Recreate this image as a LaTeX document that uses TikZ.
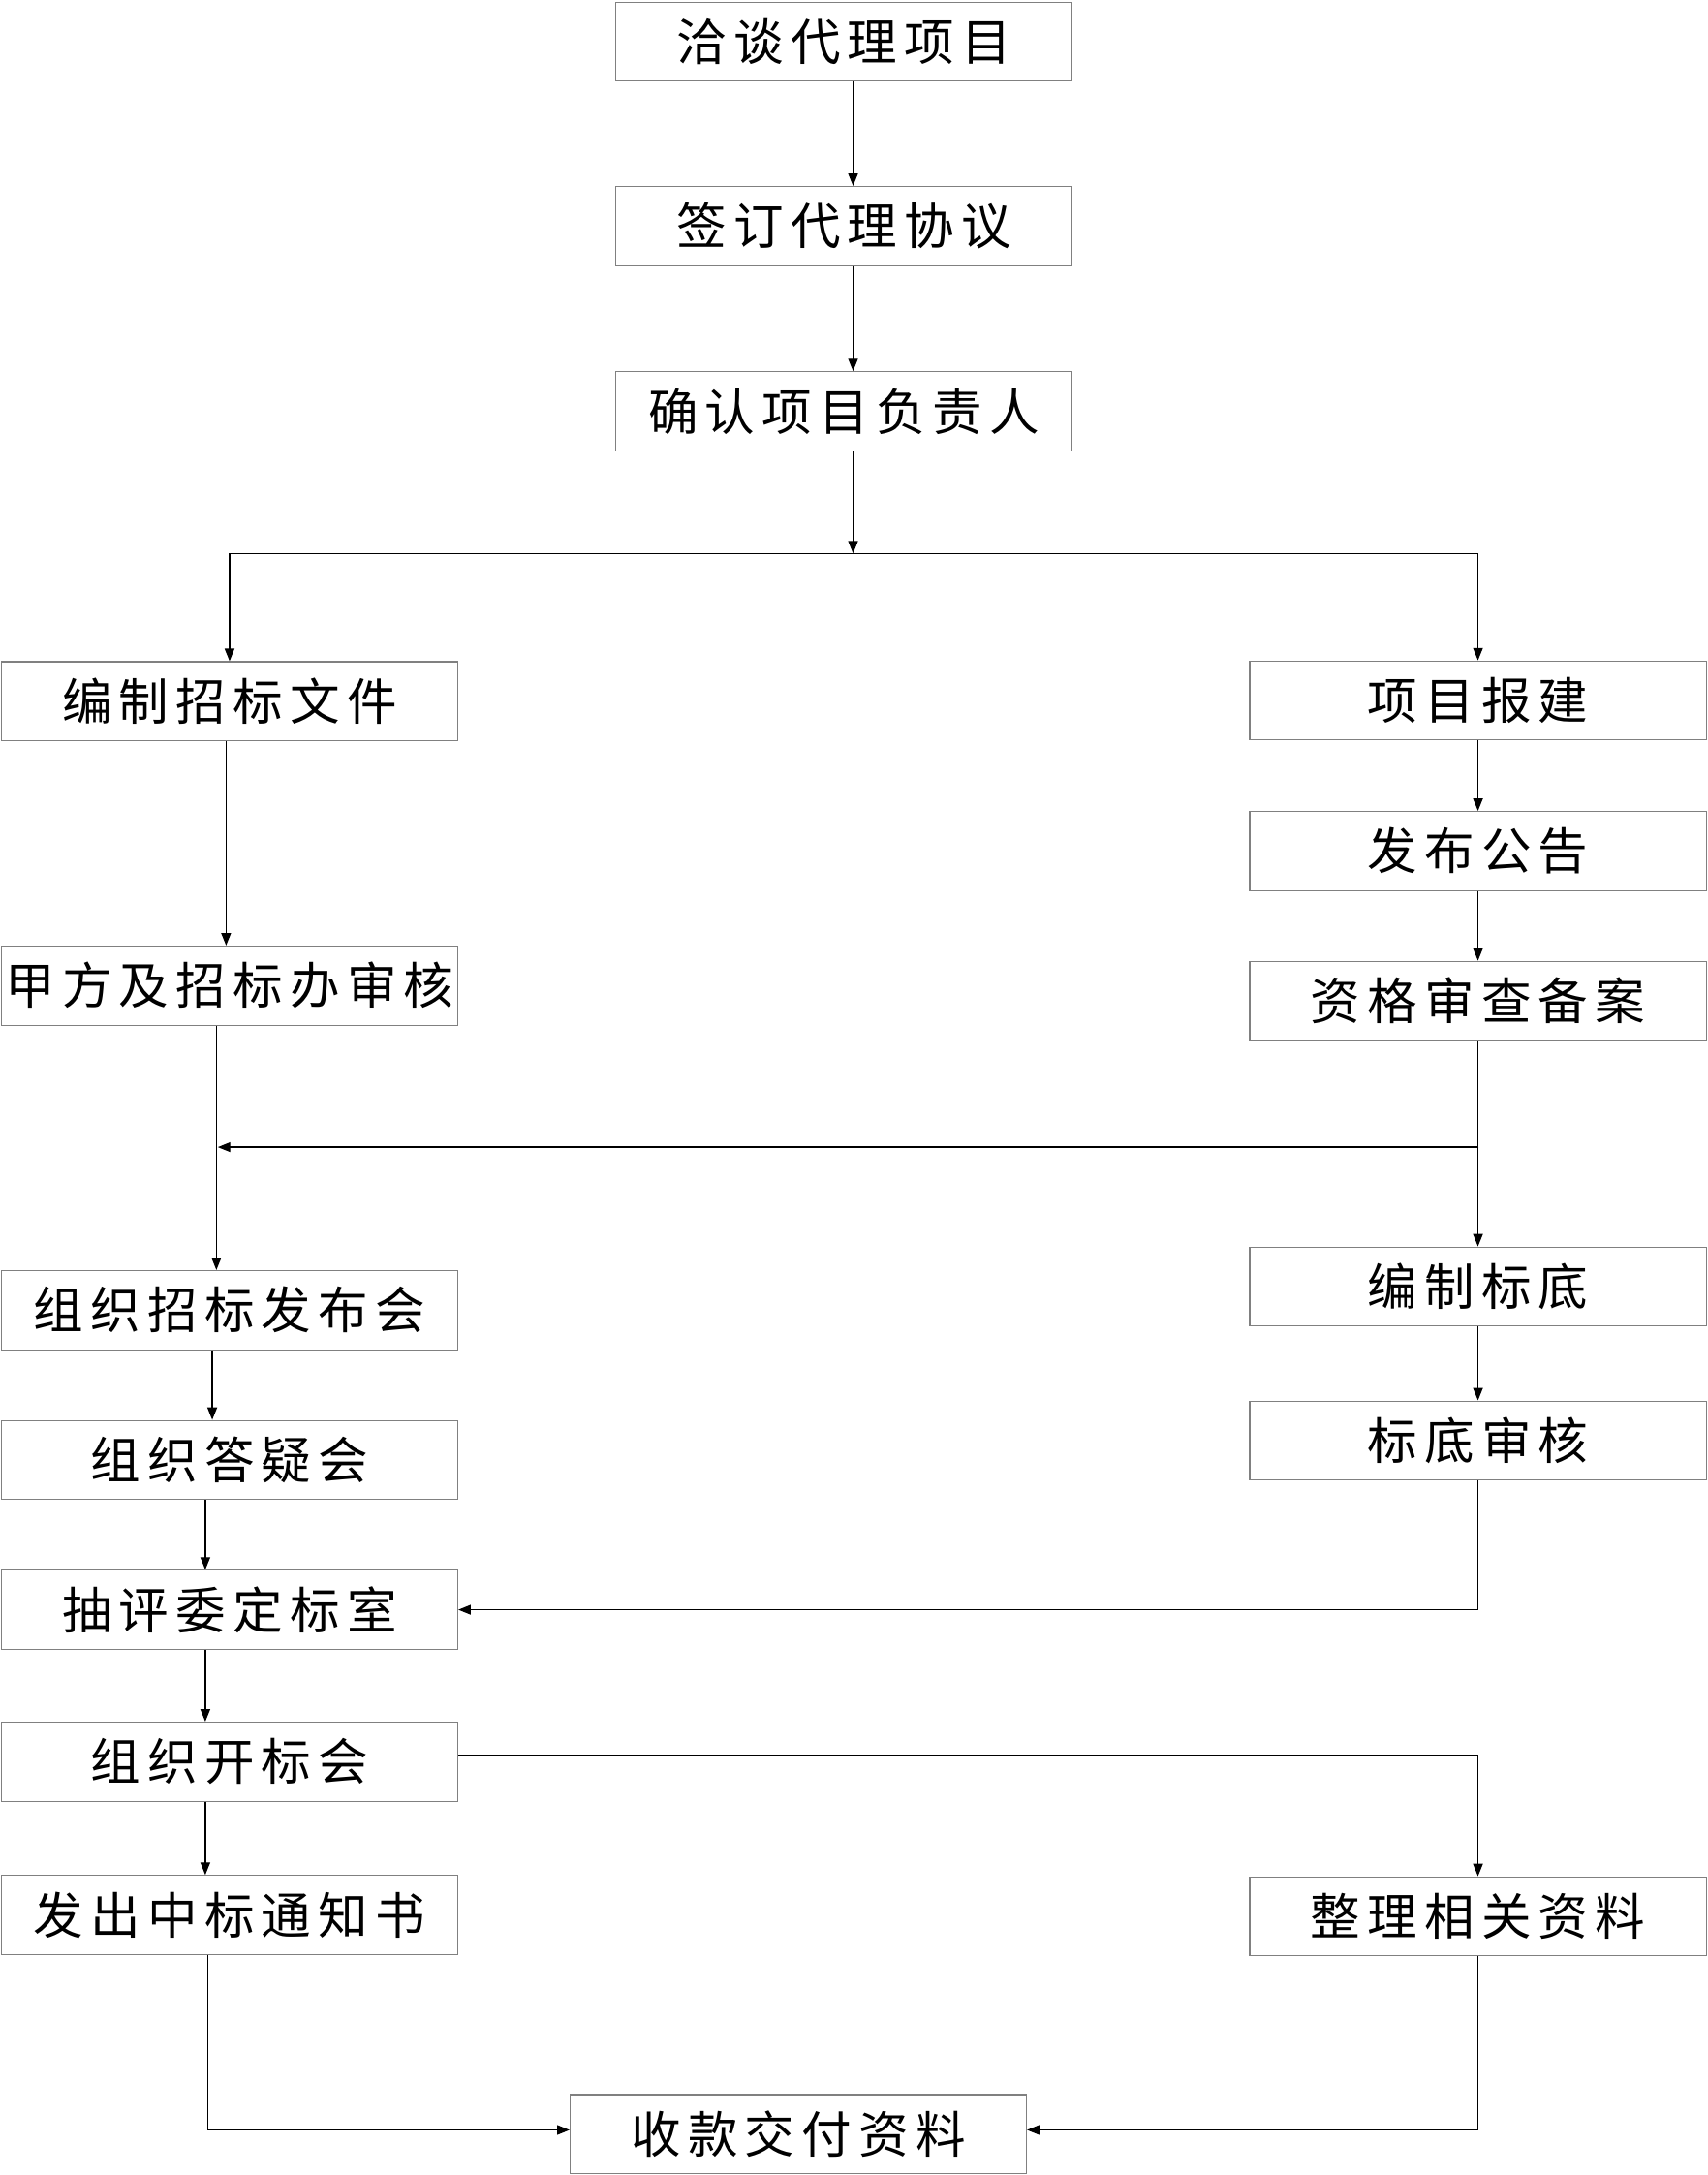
\documentclass[tikz,border=0pt]{standalone}
\usepackage{fontspec}
\newfontfamily\cjk[LetterSpace=14]{Noto Sans CJK SC}
\usetikzlibrary{arrows.meta}
\tikzset{
  box/.style={draw=gray, line width=0.8, minimum width=329, minimum height=57, inner sep=0, font=\cjk\fontsize{36}{40}\selectfont},
  arr/.style={-{Triangle[length=9,width=7]}, line width=0.9}
}
\begin{document}
\begin{tikzpicture}[x=1pt,y=-1pt]
\useasboundingbox (0,0) rectangle (1231,1568);

%Boxes middle
\node[box] (qiatan) at (608.5,30) {洽谈代理项目};
\node[box] (qianding) at (608.5,163) {签订代理协议};
\node[box] (queren) at (608.5,296.5) {确认项目负责人};
%Boxes left
\node[box] (bianzhi) at (165.5,505.5) {编制招标文件};
\node[box] (jiafang) at (165.5,710.5) {甲方及招标办审核};
\node[box] (fabuhui) at (165.5,944.5) {组织招标发布会};
\node[box] (dayi) at (165.5,1052.5) {组织答疑会};
\node[box] (choupin) at (165.5,1160.5) {抽评委定标室};
\node[box] (kaibiao) at (165.5,1270) {组织开标会};
\node[box] (zhongbiao) at (165.5,1380.5) {发出中标通知书};
%Boxes right
\node[box] (baojian) at (1065.5,505) {项目报建};
\node[box] (gonggao) at (1065.5,613.5) {发布公告};
\node[box] (beian) at (1065.5,721.5) {资格审查备案};
\node[box] (biaodi) at (1065.5,927.5) {编制标底};
\node[box] (shenhe) at (1065.5,1038.5) {标底审核};
\node[box] (zhengli) at (1065.5,1381.5) {整理相关资料};
%Box bottom
\node[box] (shoukuan) at (575.5,1538.5) {收款交付资料};

%Split points
\coordinate (split) at (615,399);
\coordinate (join) at (1066,827);
\coordinate (joinend) at (157,827);

%Top chain
\draw[arr] (qiatan.south -| split) -- (qianding.north -| split);
\draw[arr] (qianding.south -| split) -- (queren.north -| split);
\draw[arr] (queren.south -| split) -- (split);
\draw[arr] (split) -| (bianzhi.north);
\draw[arr] (split) -| (baojian.north);

%Left column
\draw[arr] (bianzhi.south -| 163,0) -- (jiafang.north -| 163,0);
\draw[arr] (jiafang.south -| 156,0) -- (fabuhui.north -| 156,0);
\draw[arr] (fabuhui.south -| 153,0) -- (dayi.north -| 153,0);
\draw[arr] (dayi.south -| 148,0) -- (choupin.north -| 148,0);
\draw[arr] (choupin.south -| 148,0) -- (kaibiao.north -| 148,0);
\draw[arr] (kaibiao.south -| 148,0) -- (zhongbiao.north -| 148,0);

%Right column
\draw[arr] (baojian) -- (gonggao);
\draw[arr] (gonggao) -- (beian);
\draw[arr] (beian) -- (biaodi);
\draw[arr] (join) -- (joinend);
\draw[arr] (biaodi) -- (shenhe);
\draw[arr] (shenhe.south) |- (choupin.east);
\draw[arr] ([yshift=5]kaibiao.east) -| (zhengli.north);

%Bottom
\draw[arr] (zhongbiao.south -| 150,0) |- ([yshift=3]shoukuan.west);
\draw[arr] (zhengli.south) |- ([yshift=3]shoukuan.east);

\end{tikzpicture}
\end{document}
